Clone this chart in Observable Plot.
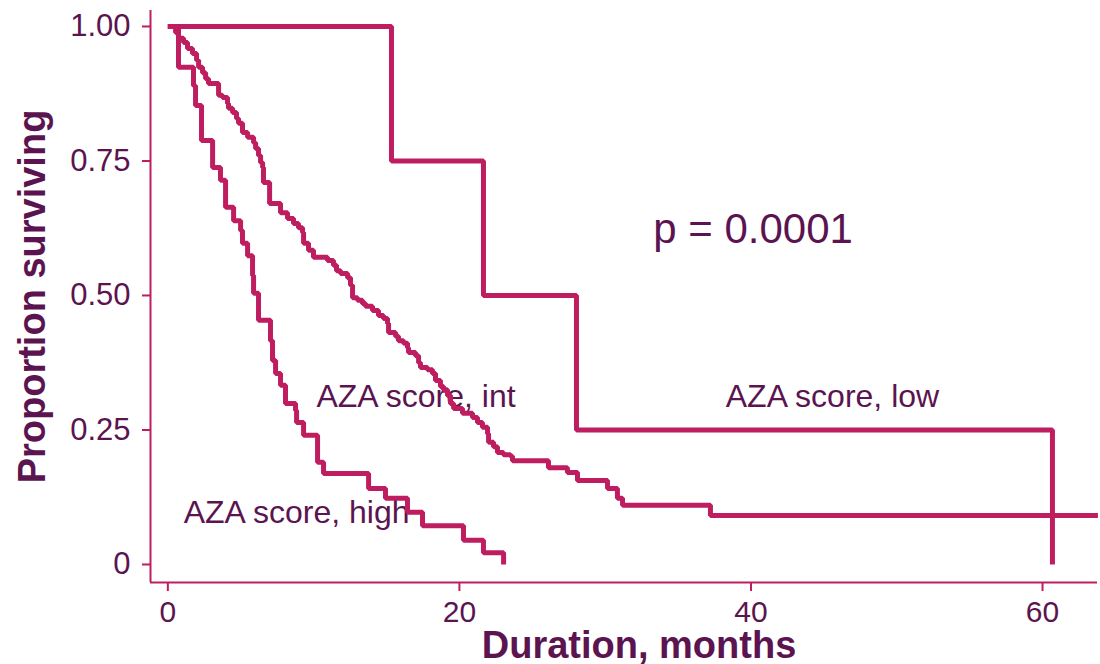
<!DOCTYPE html>
<html>
<head>
<meta charset="utf-8">
<script src="https://cdn.jsdelivr.net/npm/d3@7"></script>
<script src="https://cdn.jsdelivr.net/npm/@observablehq/plot@0.6"></script>
<style>
  html, body { margin: 0; padding: 0; background: #fff; }
  #chart svg { display: block; }
</style>
</head>
<body>
<div id="chart"></div>
<script>
// Kaplan–Meier survival by AZA score group (event time in months, survival after the event)
const lowTimes = [0, 15.34, 21.65, 28.03, 60.68];
const lowSurv  = [1, 0.75, 0.5, 0.25, 0];

const intTimes = [0, 0.53, 0.73, 1.08, 1.35, 1.69, 1.97, 2.11, 2.38, 2.59, 2.79, 3.48, 3.75, 4.09, 4.16, 4.44, 4.71, 4.85, 5.12, 5.47,
  5.88, 6.02, 6.22, 6.36, 6.50, 6.56, 6.98, 7.73, 8.21, 8.62, 8.96, 9.24, 9.31, 9.65, 9.99, 10.95, 11.36, 11.57, 11.85, 12.33,
  12.53, 12.67, 13.01, 13.35, 13.56, 14.04, 14.45, 14.79, 15.07, 15.14, 15.62, 15.82, 16.17, 16.44, 16.51, 16.99, 17.20, 17.33, 17.81, 18.15,
  18.36, 18.70, 18.91, 19.18, 19.39, 19.60, 20.21, 20.90, 21.24, 21.58, 21.93, 22.00, 22.34, 22.61, 23.02, 23.51, 23.64, 26.11, 27.41, 28.10,
  30.16, 30.84, 31.19, 37.22, 63.8];
const intSurv = [1, 0.989, 0.978, 0.970, 0.959, 0.950, 0.937, 0.924, 0.914, 0.903, 0.894, 0.872, 0.868, 0.857, 0.848, 0.840, 0.829, 0.820, 0.803, 0.794,
  0.784, 0.773, 0.760, 0.747, 0.738, 0.710, 0.671, 0.654, 0.643, 0.634, 0.626, 0.617, 0.597, 0.584, 0.571, 0.565, 0.556, 0.546, 0.541, 0.533,
  0.519, 0.496, 0.491, 0.485, 0.480, 0.472, 0.463, 0.457, 0.448, 0.431, 0.424, 0.416, 0.411, 0.403, 0.394, 0.388, 0.375, 0.366, 0.362, 0.355,
  0.342, 0.331, 0.325, 0.314, 0.299, 0.290, 0.281, 0.273, 0.264, 0.255, 0.243, 0.227, 0.219, 0.208, 0.204, 0.201, 0.193, 0.180, 0.171, 0.156,
  0.141, 0.123, 0.110, 0.091, 0.091];

const highTimes = [0, 0.73, 1.76, 1.90, 2.31, 3.07, 3.61, 3.96, 4.51, 4.99, 5.12, 5.47, 5.81, 5.88, 6.22, 7.04,
  7.18, 7.39, 7.73, 8.07, 8.76, 8.83, 9.31, 10.27, 10.68, 13.77, 14.93, 16.44, 17.47, 20.28, 21.65, 23.03];
const highSurv = [1, 0.924, 0.890, 0.853, 0.788, 0.738, 0.714, 0.664, 0.639, 0.621, 0.597, 0.574, 0.537, 0.504, 0.454, 0.416,
  0.379, 0.355, 0.333, 0.299, 0.286, 0.264, 0.240, 0.190, 0.169, 0.141, 0.123, 0.097, 0.072, 0.045, 0.022, 0];

// Group labels and where they sit (months, proportion at the text baseline)
const groupLabels = ["AZA score, low", "AZA score, int", "AZA score, high"];
const labelX = [45.59, 17.02, 8.83];
const labelY = [0.292, 0.292, 0.078];

const pValueText = "p = 0.0001";
const pValueX = 40.14;
const pValueY = 0.597;

const xTicks = [0, 20, 40, 60];
const yTicks = [0, 0.25, 0.5, 0.75, 1];
const xTitle = "Duration, months";
const yTitle = "Proportion surviving";

const xDomain = [-1.19, 63.77];
const yDomain = [-0.0335, 1.0297];

const curveColor = "#be1e5f";
const textColor = "#5b1450";
const font = "'Liberation Sans', Arial, Helvetica, sans-serif";

function rows(group, times, surv) {
  return times.map((t, i) => ({group, t, s: surv[i]}));
}
const survival = [
  ...rows("low", lowTimes, lowSurv),
  ...rows("int", intTimes, intSurv),
  ...rows("high", highTimes, highSurv)
];
const labels = groupLabels.map((text, i) => ({text, x: labelX[i], y: labelY[i]}));

const chart = Plot.plot({
  width: 1100,
  height: 664,
  marginLeft: 150,
  marginRight: 3,
  marginTop: 10,
  marginBottom: 82,
  style: {fontFamily: font, background: "#fff", color: textColor},
  x: {domain: xDomain},
  y: {domain: yDomain},
  marks: [
    // axis lines
    Plot.ruleY([yDomain[0]], {stroke: curveColor, strokeWidth: 2}),
    Plot.ruleX([xDomain[0]], {stroke: curveColor, strokeWidth: 2}),
    Plot.axisX({
      ticks: xTicks, tickSize: 9, tickPadding: 9, label: null,
      stroke: curveColor, strokeWidth: 2, fill: textColor, fontSize: 30
    }),
    Plot.axisY({
      ticks: yTicks, tickSize: 8, tickPadding: 12, label: null,
      tickFormat: d => d === 0 ? "0" : d3.format(".2f")(d),
      stroke: curveColor, strokeWidth: 2, fill: textColor, fontSize: 31
    }),
    // axis titles
    Plot.text([xTitle], {
      frameAnchor: "bottom", dx: 15, dy: 75, lineAnchor: "bottom", textAnchor: "middle",
      fill: textColor, fontSize: 38, fontWeight: "bold"
    }),
    Plot.text([yTitle], {
      frameAnchor: "left", dx: -106, rotate: -90, lineAnchor: "bottom", textAnchor: "middle",
      fill: textColor, fontSize: 38, fontWeight: "bold"
    }),
    // annotations
    Plot.text(labels, {x: "x", y: "y", text: "text", lineAnchor: "bottom", textAnchor: "middle", fill: textColor, fontSize: 32}),
    Plot.text([pValueText], {x: pValueX, y: pValueY, lineAnchor: "bottom", textAnchor: "middle", fill: textColor, fontSize: 42}),
    // survival curves
    Plot.line(survival, {
      x: "t", y: "s", z: "group", curve: "step-after",
      stroke: curveColor, strokeWidth: 5, strokeLinejoin: "miter", strokeLinecap: "butt"
    })
  ]
});

document.getElementById("chart").appendChild(chart);
</script>
</body>
</html>
